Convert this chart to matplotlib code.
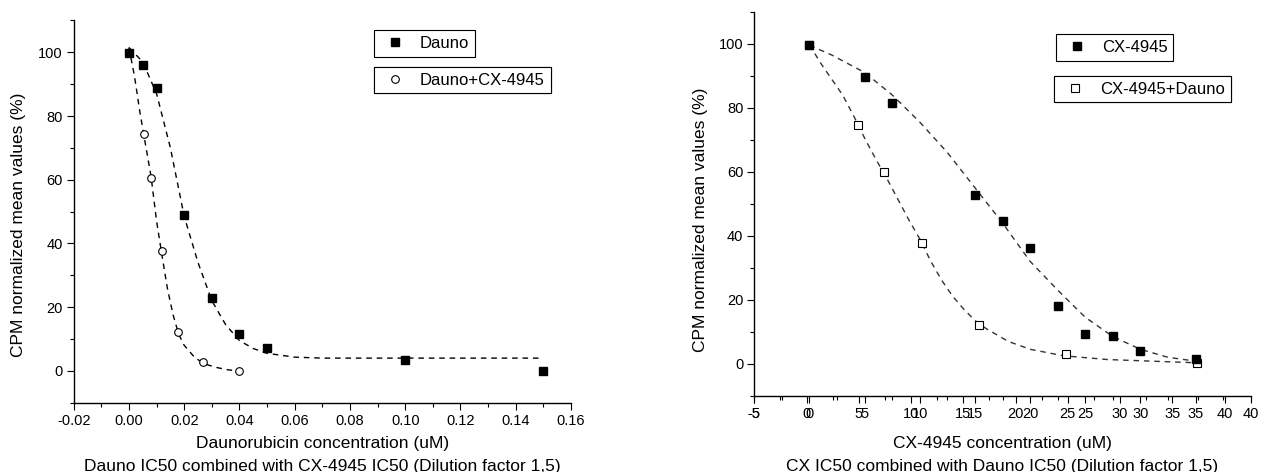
import matplotlib
matplotlib.use("Agg")
import matplotlib.pyplot as plt
from matplotlib.ticker import MultipleLocator

plt.rcParams["font.family"] = ["Liberation Sans", "DejaVu Sans"]
plt.rcParams["axes.unicode_minus"] = False

W, H = 1261, 472

# --- Daunorubicin titration (left panel) ---
dauno_x = [0.0, 0.005, 0.01, 0.02, 0.03, 0.04, 0.05, 0.10, 0.15]
dauno_y = [99.7, 96.0, 88.7, 49.0, 23.0, 11.7, 7.2, 3.4, 0.0]
dauno_cx_x = [0.0, 0.0053, 0.0079, 0.0119, 0.0178, 0.0267, 0.04]
dauno_cx_y = [99.7, 74.5, 60.5, 37.6, 12.1, 2.7, 0.0]

# fitted dose-response curves (Origin fit output)
dauno_fit_x = [0.0, 0.005, 0.01, 0.015, 0.02, 0.025, 0.03, 0.035, 0.04, 0.045,
               0.05, 0.06, 0.07, 0.15]
dauno_fit_y = [101.5, 97.0, 87.0, 70.0, 48.5, 34.0, 22.0, 14.5, 9.5, 7.0,
               5.5, 4.3, 4.0, 4.0]
dauno_cx_fit_x = [0.0, 0.002, 0.004, 0.006, 0.008, 0.010, 0.012, 0.014, 0.016,
                  0.018, 0.020, 0.024, 0.028, 0.032, 0.036, 0.040]
dauno_cx_fit_y = [101.5, 92.5, 81.0, 71.0, 61.0, 47.0, 36.0, 25.5, 17.5,
                  11.5, 8.0, 4.0, 2.0, 1.0, 0.3, 0.0]

# --- CX-4945 titration (right panel) ---
cx_x = [0, 5, 7.5, 15, 17.5, 20, 22.5, 25, 27.5, 30, 35]
cx_y = [99.7, 89.6, 81.4, 52.6, 44.5, 36.1, 17.9, 9.3, 8.6, 4.1, 1.5]
cx_dauno_x = [0, 4.4, 6.8, 10.2, 15.4, 23.3, 35.1]
cx_dauno_y = [99.7, 74.5, 60.0, 37.8, 12.2, 2.9, 0.3]

cx_fit_x = [0, 2, 5, 7.5, 10, 12.5, 15, 17.5, 20, 22.5, 25, 27.5, 30, 32.5, 35]
cx_fit_y = [99.5, 96.5, 91.0, 84.0, 75.5, 66.0, 55.0, 44.0, 32.0, 23.0, 14.5,
            8.5, 4.5, 2.0, 0.8]
cx_dauno_fit_x = [0, 1, 2, 3, 4, 5, 6, 7, 8, 9, 10, 11, 12, 13, 14, 15, 16,
                  18, 20, 23, 27, 31, 35]
cx_dauno_fit_y = [99.7, 94.0, 89.0, 84.0, 77.5, 70.5, 64.0, 58.0, 51.5, 45.0,
                  39.0, 32.0, 26.0, 21.0, 17.0, 13.5, 11.0, 7.0, 4.5, 2.5,
                  1.3, 0.8, 0.3]

YLABEL = "CPM normalized mean values (%)"
TICK_FS = 10.5
LABEL_FS = 12.5
LEG_FS = 12
DASH = (0, (4, 3.5))


def px_rect(x0, y0, x1, y1):
    """Axes rectangle from pixel corners (top-left origin)."""
    return [x0 / W, 1 - y1 / H, (x1 - x0) / W, (y1 - y0) / H]


def style_axis(ax):
    for side in ("top", "right"):
        ax.spines[side].set_visible(False)
    for side in ("left", "bottom"):
        ax.spines[side].set_linewidth(1.0)
    ax.tick_params(which="major", direction="out", length=4.8, width=0.8,
                   labelsize=TICK_FS, pad=3)
    ax.tick_params(which="minor", direction="out", length=2.9, width=0.8)
    ax.set_ylim(-10, 110)
    ax.yaxis.set_major_locator(MultipleLocator(20))
    ax.yaxis.set_minor_locator(MultipleLocator(10))


def box_legend(ax, handle, label, x, y):
    leg = ax.legend([handle], [label], loc="upper left",
                    bbox_to_anchor=(x / W, 1 - y / H),
                    bbox_transform=fig.transFigure, borderaxespad=0,
                    fontsize=LEG_FS, frameon=True, fancybox=False,
                    framealpha=1, edgecolor="black", borderpad=0.35,
                    handlelength=1.8, handletextpad=0.6)
    leg.get_frame().set_linewidth(0.8)
    ax.add_artist(leg)
    return leg


fig = plt.figure(figsize=(W / 100, H / 100), dpi=100)

# ---------------- left panel ----------------
ax1 = fig.add_axes(px_rect(73.7, 20.5, 571.0, 402.7))
style_axis(ax1)
ax1.set_xlim(-0.02, 0.16)
ax1.xaxis.set_major_locator(MultipleLocator(0.02))
ax1.xaxis.set_minor_locator(MultipleLocator(0.01))
ax1.xaxis.set_major_formatter(lambda v, p: f"{v:.2f}")

ax1.plot(dauno_fit_x, dauno_fit_y, color="black", lw=1.0, ls=DASH)
ax1.plot(dauno_cx_fit_x, dauno_cx_fit_y, color="black", lw=1.0, ls=DASH)
h_cx, = ax1.plot(dauno_cx_x, dauno_cx_y, ls="none", marker="o", ms=5.5,
                 mfc="white", mec="black", mew=0.8)
h_d, = ax1.plot(dauno_x, dauno_y, ls="none", marker="s", ms=6.4,
                mfc="black", mec="black")

box_legend(ax1, h_d, "Dauno", 374, 30)
box_legend(ax1, h_cx, "Dauno+CX-4945", 374, 66.7)

fig.text(19 / W, 1 - 225 / H, YLABEL, rotation=90, ha="center", va="center",
         fontsize=LABEL_FS)
fig.text(322.3 / W, 1 - 443.8 / H, "Daunorubicin concentration (uM)",
         ha="center", va="center", fontsize=LABEL_FS)
fig.text(322.3 / W, 1 - 466.3 / H,
         "Dauno IC50 combined with CX-4945 IC50 (Dilution factor 1,5)",
         ha="center", va="center", fontsize=LABEL_FS)

# ---------------- right panel ----------------
ax2 = fig.add_axes(px_rect(754.3, 11.7, 1250.7, 395.7))
style_axis(ax2)
ax2.set_xlim(-5, 42.5)
ax2.xaxis.set_major_locator(MultipleLocator(5))
ax2.xaxis.set_minor_locator(MultipleLocator(5, offset=2.5))

# second x scale sharing the bottom edge
ax3 = ax2.twiny()
ax3.set_xlim(-5, 40)
for s in ax3.spines.values():
    s.set_visible(False)
ax3.xaxis.set_ticks_position("bottom")
ax3.xaxis.set_label_position("bottom")
ax3.xaxis.set_major_locator(MultipleLocator(5))
ax3.xaxis.set_minor_locator(MultipleLocator(5, offset=2.5))
ax3.tick_params(which="major", direction="out", length=4.8, width=0.8,
                labelsize=TICK_FS, pad=3)
ax3.tick_params(which="minor", direction="out", length=2.9, width=0.8)

ax3.plot(cx_fit_x, cx_fit_y, color="#333333", lw=1.0, ls=DASH)
ax3.plot(cx_dauno_fit_x, cx_dauno_fit_y, color="#333333", lw=1.0, ls=DASH)
h_cxd, = ax3.plot(cx_dauno_x, cx_dauno_y, ls="none", marker="s", ms=5.6,
                  mfc="white", mec="black", mew=0.8)
h_cx2, = ax3.plot(cx_x, cx_y, ls="none", marker="s", ms=6.4,
                  mfc="black", mec="black")

box_legend(ax3, h_cx2, "CX-4945", 1056, 34.3)
box_legend(ax3, h_cxd, "CX-4945+Dauno", 1054, 75.7)

fig.text(701 / W, 1 - 220 / H, YLABEL, rotation=90, ha="center", va="center",
         fontsize=LABEL_FS)
fig.text(1002.5 / W, 1 - 443.8 / H, "CX-4945 concentration (uM)",
         ha="center", va="center", fontsize=LABEL_FS)
fig.text(1002.5 / W, 1 - 466.3 / H,
         "CX IC50 combined with Dauno IC50 (Dilution factor 1,5)",
         ha="center", va="center", fontsize=LABEL_FS)

fig.savefig("out.png", dpi=100, facecolor="white")
